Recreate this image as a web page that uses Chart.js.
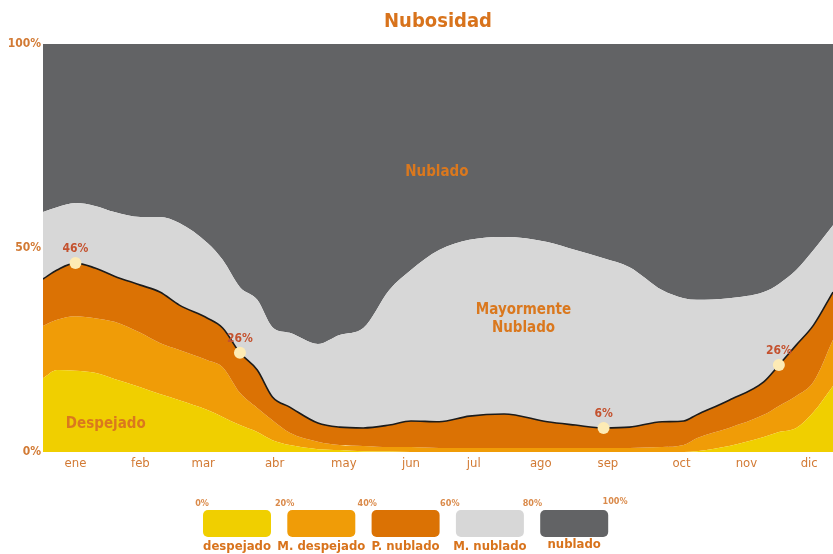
<!DOCTYPE html>
<html lang="es">
<head>
<meta charset="utf-8">
<title>Nubosidad</title>
<script src="https://cdn.jsdelivr.net/npm/chart.js@4.4.1/dist/chart.umd.min.js"></script>
<style>
  html, body { margin: 0; padding: 0; background: #fff; }
  #wrap { width: 833px; height: 554px; }
</style>
</head>
<body>
<div id="wrap"><canvas id="nubosidad"></canvas></div>
<script>
// eje x: día del año (0 - 365)
const dias = [0, 6.5, 15, 24, 33, 45, 54, 63, 76, 83, 91, 99, 106, 114, 127, 137, 148, 160, 170, 183,
  197, 213, 233, 246, 259, 271, 286, 296, 302, 317, 333, 340, 348, 356, 365];

// límites acumulados (%) de cada franja, de abajo hacia arriba
const limDespejado = [18.1, 20.1, 19.9, 19.4, 17.9, 15.9, 14.2, 12.7, 10.3, 8.6,
  6.6, 4.9, 2.9, 1.7, 0.7, 0.5, 0.2, 0.1, 0, 0,
  0, 0, 0, 0, 0, 0, 0, 0, 0.2, 1.5,
  3.7, 4.9, 5.9, 9.8, 16.2];
const limMDespejado = [30.9, 32.4, 33.3, 32.8, 31.9, 29.2, 26.7, 25.0, 22.5, 20.8,
  14.5, 10.8, 7.8, 4.7, 2.5, 1.7, 1.5, 1.2, 1.2, 1.0,
  1.0, 1.0, 1.0, 1.0, 1.0, 1.0, 1.2, 1.7, 3.4, 5.9,
  9.1, 11.3, 13.7, 17.2, 27.5];
const limPNublado = [42.4, 44.6, 46.3, 45.1, 43.1, 40.9, 39.2, 36.0, 32.8, 30.4,
  24.3, 20.1, 13.5, 11.0, 7.1, 6.1, 5.9, 6.6, 7.6, 7.4,
  8.8, 9.3, 7.4, 6.6, 5.9, 6.1, 7.4, 7.6, 9.1, 12.7,
  17.2, 21.3, 26.2, 31.1, 39.2];
const limMNublado = [58.8, 60.0, 61.0, 60.3, 58.8, 57.6, 57.6, 56.1, 51.2, 47.1,
  40.4, 37.3, 30.6, 29.2, 26.5, 28.7, 30.4, 39.7, 44.6, 49.5,
  52.0, 52.7, 51.5, 49.5, 47.5, 45.3, 39.7, 37.7, 37.3, 37.7,
  39.2, 41.2, 44.6, 49.5, 55.6];

const meses = ["ene", "feb", "mar", "abr", "may", "jun", "jul", "ago", "sep", "oct", "nov", "dic"];
const diasMeses = [15, 45, 74, 107, 139, 170, 199, 230, 261, 295, 325, 354];
const ticksY = [0, 50, 100];

// puntos destacados sobre la línea negra
const puntosDias = [15, 91, 259, 340];
const puntosValores = [46.3, 24.3, 5.9, 21.3];
const puntosEtiquetas = ["46%", "26%", "6%", "26%"];

// textos dentro de las franjas
const zonasTexto = ["Nublado", "Mayormente", "Nublado", "Despejado"];
const zonasDias = [182, 222, 222, 29];
const zonasValores = [68.6, 34.8, 30.4, 6.9];

// leyenda
const categorias = ["despejado", "M. despejado", "P. nublado", "M. nublado", "nublado"];
const colores = ["#f0cf00", "#f09c07", "#db7204", "#d7d7d7", "#626365"];
const porcentajes = ["0%", "20%", "40%", "60%", "80%", "100%"];

const fuente = "'DejaVu Sans Condensed', 'Liberation Sans Narrow', Roboto, sans-serif";
const naranja = "#d8731c";

const pares = (arr) => arr.map((v, i) => ({ x: dias[i], y: v }));

const textosPlugin = {
  id: "textos",
  afterDatasetsDraw(chart) {
    const { ctx, scales } = chart;
    ctx.save();
    ctx.textAlign = "center";
    ctx.textBaseline = "middle";

    // textos de zonas
    ctx.fillStyle = "#da781e";
    ctx.font = "bold 15px " + fuente;
    zonasTexto.forEach((t, i) => {
      ctx.fillText(t, scales.x.getPixelForValue(zonasDias[i]), scales.y.getPixelForValue(zonasValores[i]));
    });

    // etiquetas de los puntos
    ctx.fillStyle = "#c4522f";
    ctx.font = "bold 12px " + fuente;
    puntosEtiquetas.forEach((t, i) => {
      ctx.fillText(t, scales.x.getPixelForValue(puntosDias[i]), scales.y.getPixelForValue(puntosValores[i]) - 14);
    });
    ctx.restore();
  },
  afterDraw(chart) {
    const { ctx } = chart;
    ctx.save();
    const x0 = 203, paso = 84.3, w = 68, h = 27, y0 = 510;
    categorias.forEach((c, i) => {
      const x = x0 + i * paso;
      ctx.fillStyle = colores[i];
      ctx.beginPath();
      ctx.roundRect(x, y0, w, h, 5);
      ctx.fill();
      ctx.fillStyle = naranja;
      ctx.font = "bold 13px " + fuente;
      ctx.textAlign = "center";
      ctx.textBaseline = "middle";
      ctx.fillText(c, x + w / 2, i === 4 ? 545 : 547);
    });
    ctx.fillStyle = "#da8a4a";
    ctx.font = "bold 9px " + fuente;
    porcentajes.forEach((p, i) => {
      ctx.fillText(p, 202 + i * 82.6, i === 5 ? 502 : 504);
    });
    ctx.restore();
  }
};

const ctx = document.getElementById("nubosidad").getContext("2d");

new Chart(ctx, {
  type: "line",
  data: {
    datasets: [
      { label: categorias[0], data: pares(limDespejado), backgroundColor: colores[0], fill: "origin", borderWidth: 0, order: 0 },
      { label: categorias[1], data: pares(limMDespejado), backgroundColor: colores[1], fill: "-1", borderWidth: 0, order: 0 },
      { label: categorias[2], data: pares(limPNublado), backgroundColor: colores[2], fill: "-1", borderColor: "#1b1b1b", borderWidth: 1.6, order: -1 },
      { label: categorias[3], data: pares(limMNublado), backgroundColor: colores[3], fill: "-1", borderWidth: 0, order: 0 },
      { label: categorias[4], data: pares(limMNublado), backgroundColor: colores[4], fill: "end", borderWidth: 0, order: 0 },
      {
        label: "puntos",
        data: puntosDias.map((d, i) => ({ x: d, y: puntosValores[i] })),
        showLine: false,
        pointRadius: 6,
        pointBackgroundColor: "#fdebb5",
        pointBorderWidth: 0,
        order: -2
      }
    ]
  },
  options: {
    responsive: true,
    maintainAspectRatio: false,
    animation: false,
    elements: {
      line: { cubicInterpolationMode: "monotone" },
      point: { radius: 0, hoverRadius: 0 }
    },
    layout: { padding: 0, autoPadding: false },
    plugins: {
      legend: { display: false },
      tooltip: { enabled: false },
      title: {
        display: true,
        text: "Nubosidad",
        fullSize: false,
        color: naranja,
        font: { family: fuente, size: 20, weight: "bold" },
        padding: { top: 10, bottom: 10 }
      }
    },
    scales: {
      x: {
        type: "linear",
        min: 0,
        max: 365,
        grid: { display: false, drawTicks: false },
        border: { display: false },
        afterBuildTicks: (s) => { s.ticks = diasMeses.map((v) => ({ value: v })); },
        afterFit: (s) => { s.height = 102; s.paddingLeft = 0; s.paddingRight = 0; },
        ticks: {
          autoSkip: false,
          maxRotation: 0,
          padding: 4,
          color: "#d27a34",
          font: { family: fuente, size: 13 },
          callback: (v) => meses[diasMeses.indexOf(v)]
        }
      },
      y: {
        min: 0,
        max: 100,
        grid: { display: false, drawTicks: false },
        border: { display: false },
        afterBuildTicks: (s) => { s.ticks = ticksY.map((v) => ({ value: v })); },
        afterFit: (s) => { s.width = 43; },
        ticks: {
          padding: 2,
          color: "#d27a34",
          font: { family: fuente, size: 12, weight: "bold" },
          callback: (v) => v + "%"
        }
      }
    }
  },
  plugins: [textosPlugin]
});
</script>
</body>
</html>
